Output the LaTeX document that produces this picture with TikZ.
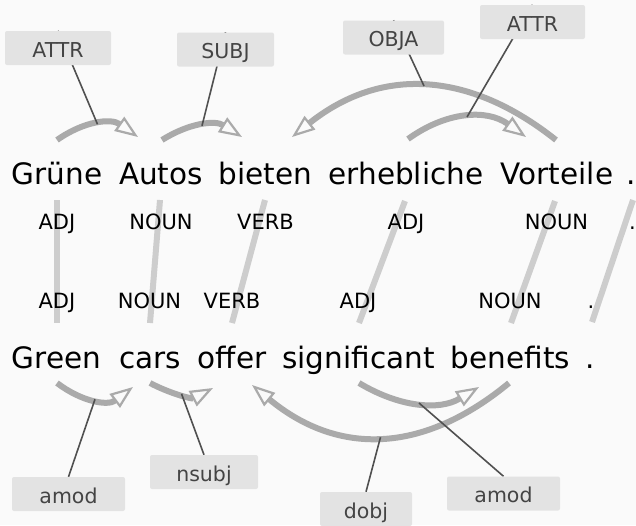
\documentclass[tikz,border=0pt]{standalone}
\usepackage{fontspec}
\setmainfont{DejaVu Sans}
\usetikzlibrary{arrows.meta}
\definecolor{bg}{HTML}{FAFAFA}
\definecolor{arcgray}{HTML}{AAAAAA}
\definecolor{aligngray}{HTML}{CDCDCD}
\definecolor{boxgray}{HTML}{E3E3E3}
\definecolor{labtext}{HTML}{444444}
\definecolor{linkdark}{HTML}{505050}
\pgfdeclarelayer{arcs}
\pgfdeclarelayer{links}
\pgfsetlayers{arcs,links,main}

\begin{document}
\begin{tikzpicture}[x=1pt,y=-1pt,
  word/.style={anchor=base, inner sep=0pt, font=\fontsize{29.5}{34}\selectfont, text=black},
  postag/.style={anchor=base, inner sep=0pt, font=\fontsize{21}{25}\selectfont, text=black},
  deplabel/.style={fill=boxgray, rounded corners=2pt, text=labtext,
    font=\fontsize{20.5}{24}\selectfont, inner xsep=0pt, inner ysep=0pt,
    minimum height=34pt, text height=20pt, text depth=2pt},
  deparc/.style={draw=arcgray, line width=6pt,
    -{Triangle[open, length=23pt, width=17pt, line width=2.2pt]}},
  alignline/.style={draw=aligngray, line width=6pt},
  labellink/.style={draw=linkdark, line width=1.6pt}]

\useasboundingbox (0,0) rectangle (636,525);
\begin{pgfonlayer}{arcs}
  \fill[bg] (0,0) rectangle (636,525);
\end{pgfonlayer}

% German sentence
\node[word] (g1) at (57,184) {Grüne};
\node[word] (g2) at (161,184) {Autos};
\node[word] (g3) at (265.5,184) {bieten};
\node[word] (g4) at (406,184) {erhebliche};
\node[word] (g5) at (557,184) {Vorteile};
\node[word] (g6) at (631.3,184) {.};

% German part-of-speech tags
\node[postag] (gp1) at (57,229) {ADJ};
\node[postag] (gp2) at (161,229) {NOUN};
\node[postag] (gp3) at (265.5,229) {VERB};
\node[postag] (gp4) at (406,229) {ADJ};
\node[postag] (gp5) at (556.5,229) {NOUN};
\node[postag] (gp6) at (632.5,229) {.};

% English part-of-speech tags
\node[postag] (ep1) at (57,308.5) {ADJ};
\node[postag] (ep2) at (149.5,308.5) {NOUN};
\node[postag] (ep3) at (232,308.5) {VERB};
\node[postag] (ep4) at (358,308.5) {ADJ};
\node[postag] (ep5) at (510,308.5) {NOUN};
\node[postag] (ep6) at (591,308.5) {.};

% English sentence
\node[word] (e1) at (56.5,368.5) {Green};
\node[word] (e2) at (150,368.5) {cars};
\node[word] (e3) at (232,368.5) {offer};
\node[word] (e4) at (358.5,368.5) {significant};
\node[word] (e5) at (510.5,368.5) {benefits};
\node[word] (e6) at (590.5,368.5) {.};

% alignment line ends
\coordinate (at1) at (57,200);   \coordinate (ab1) at (57,323);
\coordinate (at2) at (160,200);  \coordinate (ab2) at (150,323);
\coordinate (at3) at (265,200);  \coordinate (ab3) at (232,323);
\coordinate (at4) at (405,201);  \coordinate (ab4) at (359,323);
\coordinate (at5) at (555,201);  \coordinate (ab5) at (511,323);
\coordinate (at6) at (633,200);  \coordinate (ab6) at (592,322);

% dependency arc ends, German side
\coordinate (d1s) at (57,140);  \coordinate (d1e) at (138,137);
\coordinate (d2s) at (162,140); \coordinate (d2e) at (242,137);
\coordinate (d3s) at (556,140); \coordinate (d3e) at (292,137);
\coordinate (d4s) at (408,139); \coordinate (d4e) at (526,137);
% dependency arc ends, English side
\coordinate (u1s) at (57,383);  \coordinate (u1e) at (133,387);
\coordinate (u2s) at (150,383); \coordinate (u2e) at (213,388);
\coordinate (u3s) at (509,383); \coordinate (u3e) at (252,385);
\coordinate (u4s) at (359,383); \coordinate (u4e) at (479,387);

\begin{pgfonlayer}{arcs}
  \foreach \i in {1,...,6} \draw[alignline] (at\i) -- (ab\i);

  \draw[deparc] (d1s) .. controls +(27,-19) and +(-27,-19) .. (d1e) coordinate[pos=.5] (d1m);
  \draw[deparc] (d2s) .. controls +(27,-17) and +(-27,-17) .. (d2e) coordinate[pos=.5] (d2m);
  \draw[deparc] (d3s) .. controls +(-88,-70) and +(88,-70) .. (d3e) coordinate[pos=.5] (d3m);
  \draw[deparc] (d4s) .. controls +(39,-28) and +(-39,-28) .. (d4e) coordinate[pos=.5] (d4m);

  \draw[deparc] (u1s) .. controls +(25,19) and +(-25,19) .. (u1e) coordinate[pos=.5] (u1m);
  \draw[deparc] (u2s) .. controls +(21,11) and +(-21,11) .. (u2e) coordinate[pos=.5] (u2m);
  \draw[deparc] (u3s) .. controls +(-86,71) and +(86,71) .. (u3e) coordinate[pos=.5] (u3m);
  \draw[deparc] (u4s) .. controls +(40,24) and +(-40,24) .. (u4e) coordinate[pos=.5] (u4m);
\end{pgfonlayer}

% relation labels
\node[deplabel, minimum width=106pt] (l1) at (58,48) {ATTR};
\node[deplabel, minimum width=97pt]  (l2) at (225.5,49.5) {SUBJ};
\node[deplabel, minimum width=101pt] (l3) at (393.5,37.5) {OBJA};
\node[deplabel, minimum width=105pt] (l4) at (532.5,22) {ATTR};
\node[deplabel, minimum width=113pt] (k1) at (68.5,494) {amod};
\node[deplabel, minimum width=108pt] (k2) at (204,472) {nsubj};
\node[deplabel, minimum width=92pt]  (k3) at (366,509) {dobj};
\node[deplabel, minimum width=113pt] (k4) at (503.5,493.5) {amod};

\begin{pgfonlayer}{links}
  \draw[labellink] (l1.north) -- (d1m);
  \draw[labellink] (l2.north) -- (d2m);
  \draw[labellink] (l3.north) -- (d3m);
  \draw[labellink] (l4.north) -- (d4m);
  \draw[labellink] (k1.north) -- (u1m);
  \draw[labellink] (k2.north) -- (u2m);
  \draw[labellink] (k3.north) -- (u3m);
  \draw[labellink] (k4.north) -- (u4m);
\end{pgfonlayer}
\end{tikzpicture}
\end{document}
